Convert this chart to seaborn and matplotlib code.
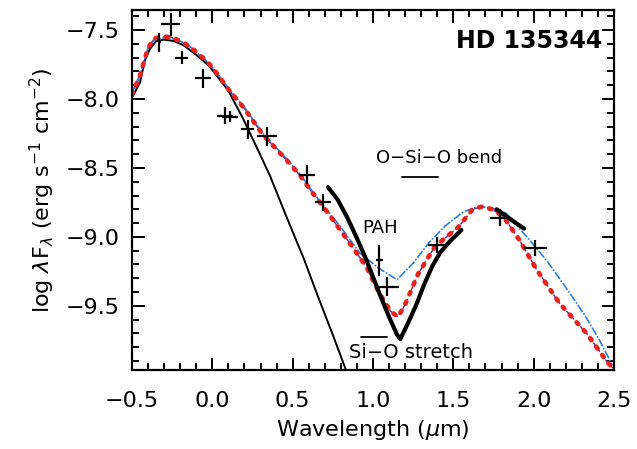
import matplotlib
matplotlib.use("Agg")
import matplotlib.pyplot as plt
import seaborn as sns
import numpy as np
import pandas as pd

# ---- data (log wavelength in um, log lambda F_lambda) ----
phot_x = [-0.50, -0.45, -0.42, -0.39, -0.35, -0.30, -0.24, -0.18, -0.10, -0.02,
          0.10, 0.19, 0.28, 0.36, 0.46, 0.57, 0.66, 0.75, 0.83, 0.90]
phot_y = [-7.99, -7.88, -7.72, -7.64, -7.58, -7.57, -7.58, -7.61, -7.68, -7.76,
          -7.94, -8.14, -8.36, -8.56, -8.85, -9.16, -9.44, -9.71, -9.96, -10.18]

red_x = [-0.50, -0.45, -0.40, -0.36, -0.30, -0.26, -0.20, -0.14, -0.05, 0.00,
         0.10, 0.20, 0.315, 0.46, 0.55, 0.61, 0.69, 0.84, 0.96, 1.04, 1.11,
         1.155, 1.20, 1.28, 1.385, 1.53, 1.62, 1.68, 1.74, 1.81, 1.91, 2.02,
         2.16, 2.33, 2.46, 2.50]
red_y = [-7.97, -7.83, -7.63, -7.56, -7.55, -7.55, -7.58, -7.62, -7.71, -7.77,
         -7.93, -8.07, -8.26, -8.44, -8.56, -8.66, -8.78, -9.02, -9.22, -9.41, -9.54,
         -9.58, -9.49, -9.27, -9.07, -8.93, -8.80, -8.78, -8.80, -8.85, -9.02, -9.24,
         -9.48, -9.70, -9.91, -9.96]

blue_x = [-0.50, -0.45, -0.40, -0.36, -0.30, -0.26, -0.20, -0.14, -0.05, 0.00,
          0.10, 0.20, 0.315, 0.46, 0.55, 0.61, 0.69, 0.80, 0.92, 1.04, 1.15,
          1.25, 1.35, 1.45, 1.56, 1.65, 1.74, 1.83, 1.98, 2.08, 2.16, 2.25,
          2.33, 2.41, 2.49]
blue_y = [-7.96, -7.82, -7.63, -7.57, -7.56, -7.56, -7.58, -7.62, -7.71, -7.77,
          -7.92, -8.06, -8.25, -8.43, -8.55, -8.65, -8.77, -8.93, -9.12, -9.23, -9.31,
          -9.19, -9.04, -8.92, -8.82, -8.78, -8.79, -8.83, -9.03, -9.17, -9.30, -9.45,
          -9.59, -9.75, -9.93]

spec1_x = [0.72, 0.78, 0.84, 0.90, 0.96, 1.04, 1.10, 1.15, 1.17, 1.22, 1.27,
           1.32, 1.37, 1.42, 1.48, 1.55]
spec1_y = [-8.64, -8.73, -8.86, -9.01, -9.17, -9.41, -9.58, -9.71, -9.74, -9.62, -9.49,
           -9.34, -9.21, -9.11, -9.03, -8.95]
spec2_x = [1.77, 1.83, 1.89, 1.94]
spec2_y = [-8.80, -8.85, -8.90, -8.94]

pt_x = [-0.33, -0.26, -0.19, -0.06, 0.08, 0.11, 0.22, 0.34, 0.59, 0.69,
        1.04, 1.09, 1.40, 1.79, 2.01]
pt_y = [-7.59, -7.46, -7.70, -7.85, -8.12, -8.13, -8.22, -8.27, -8.55, -8.75,
        -9.17, -9.36, -9.06, -8.86, -9.08]
pt_xerr = [0.01, 0.06, 0.04, 0.05, 0.05, 0.05, 0.04, 0.06, 0.05, 0.05,
           0.02, 0.07, 0.06, 0.06, 0.07]
pt_yerr = [0.07, 0.08, 0.05, 0.07, 0.06, 0.04, 0.07, 0.07, 0.07, 0.06,
           0.11, 0.07, 0.06, 0.06, 0.06]

x_ticks = [-0.5, 0.0, 0.5, 1.0, 1.5, 2.0, 2.5]
y_ticks = [-7.5, -8.0, -8.5, -9.0, -9.5]

sns.set_theme(style="ticks")
plt.rcParams['font.family'] = ['DejaVu Sans']
plt.rcParams['text.color'] = 'black'
plt.rcParams['axes.labelcolor'] = 'black'
plt.rcParams['xtick.color'] = 'black'
plt.rcParams['ytick.color'] = 'black'

fig = plt.figure(figsize=(6.37, 4.49), dpi=100)
ax = fig.add_axes([132/637, 1-370/449, (614-132)/637, (370-10)/449])

sns.lineplot(x=phot_x, y=phot_y, ax=ax, color='black', lw=1.4, sort=False)
sns.lineplot(x=red_x, y=red_y, ax=ax, color='#5b2a86', lw=1.0, sort=False,
             linestyle=(0, (3, 2)))
sns.lineplot(x=blue_x, y=blue_y, ax=ax, color='#2a7fd8', lw=1.2, sort=False,
             linestyle=(0, (5, 1, 1, 1)))
sns.lineplot(x=red_x, y=red_y, ax=ax, color='#e8221c', lw=3.4, sort=False,
             linestyle=(0, (0.5, 1.7)))
ax.lines[-1].set_dash_capstyle('round')
sns.lineplot(x=spec1_x, y=spec1_y, ax=ax, color='black', lw=3.0, sort=False)
sns.lineplot(x=spec2_x, y=spec2_y, ax=ax, color='black', lw=3.0, sort=False)
ax.errorbar(pt_x, pt_y, xerr=pt_xerr, yerr=pt_yerr, fmt='none', ecolor='black',
            elinewidth=1.6, capsize=0)

ax.set_xlim(-0.5, 2.5)
ax.set_ylim(-9.965, -7.355)
ax.set_xticks(x_ticks)
ax.set_yticks(y_ticks)
ax.set_xticklabels([f"{v:.1f}".replace('-', '\u2212') for v in x_ticks])
ax.set_yticklabels([f"{v:.1f}".replace('-', '\u2212') for v in y_ticks])
ax.xaxis.set_minor_locator(matplotlib.ticker.MultipleLocator(0.1))
ax.yaxis.set_minor_locator(matplotlib.ticker.MultipleLocator(0.1))
ax.tick_params(which='both', direction='in', top=True, right=True, width=1.4,
               colors='black', labelsize=16)
ax.tick_params(axis='x', which='major', pad=15)
ax.tick_params(axis='y', which='major', pad=9)
ax.tick_params(which='major', length=9)
ax.tick_params(which='minor', length=5)
for s in ax.spines.values():
    s.set_linewidth(1.6)
    s.set_color('black')
    s.set_visible(True)

ax.set_xlabel('Wavelength ($\\mu$m)', fontsize=16, labelpad=5)
ax.set_ylabel('log $\\lambda$F$_\\lambda$ (erg s$^{-1}$ cm$^{-2}$)', fontsize=16, labelpad=6)

ax.text(0.975, 0.915, 'HD 135344', transform=ax.transAxes, ha='right', va='center',
        fontsize=17, fontweight='bold')
ax.text(0.506, 0.590, 'O\u2212Si\u2212O bend', transform=ax.transAxes, ha='left',
        va='center', fontsize=13)
ax.plot([0.560, 0.635], [0.535, 0.535], transform=ax.transAxes, color='black', lw=1.3)
ax.text(0.477, 0.395, 'PAH', transform=ax.transAxes, ha='left', va='center', fontsize=13)
ax.text(0.450, 0.050, 'Si\u2212O stretch', transform=ax.transAxes, ha='left',
        va='center', fontsize=14)
ax.plot([0.476, 0.530], [0.092, 0.092], transform=ax.transAxes, color='black', lw=1.3)

fig.savefig('out.png', dpi=100)
